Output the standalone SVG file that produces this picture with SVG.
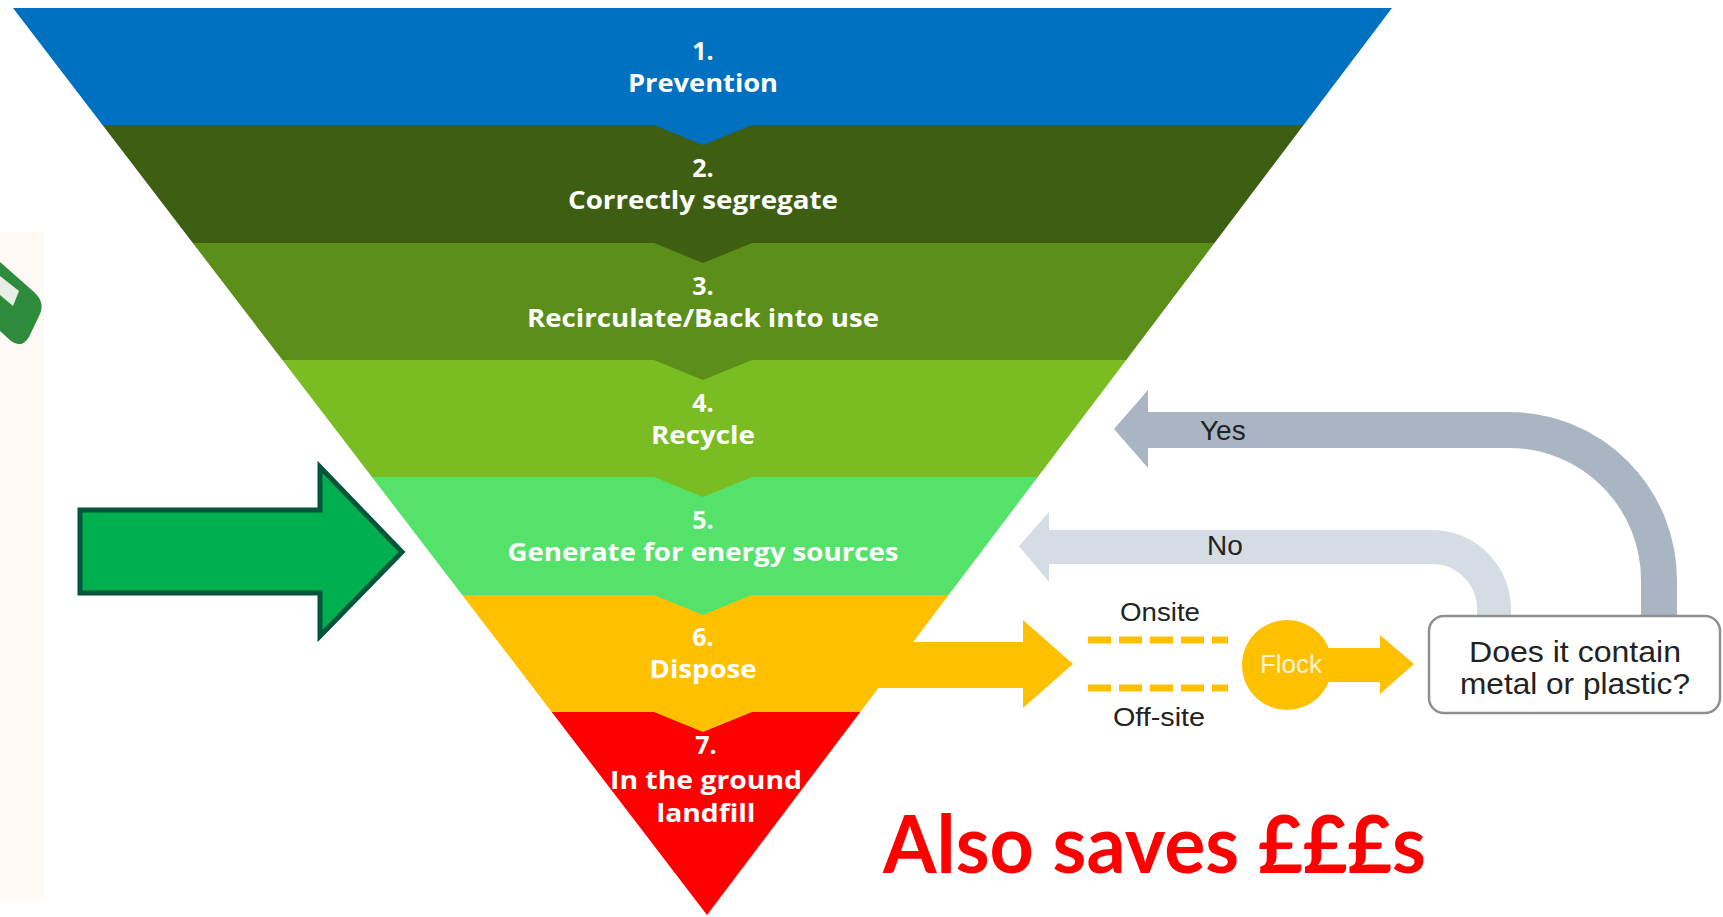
<svg xmlns="http://www.w3.org/2000/svg" width="1723" height="917" viewBox="0 0 1723 917">
<style>
.pt{font-family:"Open Sans","Noto Sans",sans-serif;font-weight:700;font-size:25px;fill:#FFFFFF;text-anchor:middle}
.lb{font-family:"Liberation Sans",Arial,sans-serif;fill:#222222}
</style>
<rect width="1723" height="917" fill="#FFFFFF"/>
<g id="left-panel">
<rect x="0" y="232" width="44" height="668" fill="#FFF9F5"/>
<path d="M0,262 L34,292 Q46,303 39,316 L29,337 Q22,349 11,341 L0,331 Z" fill="#2E8B3C"/>
<path d="M0,276 L19,291 L13,306 L0,295 Z" fill="#E6EEE6"/>
</g>
<g id="pyramid">
<g id="band7"><polygon points="551.7,712 860.3,712 707,915" fill="#FF0000"/></g>
<g id="band6"><polygon points="462.2,595 948.7,595 860.3,712 752,712 703,732 654,712 551.7,712" fill="#FFC000"/></g>
<g id="band5"><polygon points="371.9,477 1037.8,477 948.7,595 752,595 703,615 654,595 462.2,595" fill="#55E26B"/></g>
<g id="band4"><polygon points="282.4,360 1126.2,360 1037.8,477 752,477 703,497 654,477 371.9,477" fill="#79BD22"/></g>
<g id="band3"><polygon points="192.8,243 1214.5,243 1126.2,360 752,360 703,380 654,360 282.4,360" fill="#5C8E1A"/></g>
<g id="band2"><polygon points="102.5,125 1303.6,125 1214.5,243 752,243 703,263 654,243 192.8,243" fill="#3E5E12"/></g>
<g id="band1"><polygon points="13,8 1392,8 1303.6,125 752,125 703,145 654,125 102.5,125" fill="#0070C0"/></g>
</g>
<g id="labels-pyramid">
<text class="pt" x="703" y="60">1.</text>
<text class="pt" x="703" y="92" textLength="150" lengthAdjust="spacingAndGlyphs">Prevention</text>
<text class="pt" x="703" y="177">2.</text>
<text class="pt" x="703" y="209" textLength="270" lengthAdjust="spacingAndGlyphs">Correctly segregate</text>
<text class="pt" x="703" y="295">3.</text>
<text class="pt" x="703" y="327" textLength="352" lengthAdjust="spacingAndGlyphs">Recirculate/Back into use</text>
<text class="pt" x="703" y="412">4.</text>
<text class="pt" x="703" y="444" textLength="104" lengthAdjust="spacingAndGlyphs">Recycle</text>
<text class="pt" x="703" y="529">5.</text>
<text class="pt" x="703" y="561" textLength="391" lengthAdjust="spacingAndGlyphs">Generate for energy sources</text>
<text class="pt" x="703" y="646">6.</text>
<text class="pt" x="703" y="678" textLength="107" lengthAdjust="spacingAndGlyphs">Dispose</text>
<text class="pt" x="706" y="754">7.</text>
<text class="pt" x="706" y="789" textLength="192" lengthAdjust="spacingAndGlyphs">In the ground</text>
<text class="pt" x="706" y="822" textLength="99" lengthAdjust="spacingAndGlyphs">landfill</text>
</g>
<g id="green-arrow">
<polygon points="80,510 320,510 320,467 402,552 320,636 320,593 80,593" fill="#00B050" stroke="#00553A" stroke-width="5" stroke-linejoin="miter"/>
</g>
<g id="connectors">
<polygon id="dispose-arrow" points="860,642 1023,642 1023,620 1073,664 1023,708 1023,688 860,688" fill="#FFC000"/>
<line x1="1088" y1="640" x2="1228" y2="640" stroke="#FFC000" stroke-width="7" stroke-dasharray="23 8"/>
<line x1="1088" y1="688" x2="1228" y2="688" stroke="#FFC000" stroke-width="7" stroke-dasharray="23 8"/>
<g id="flock-arrow">
<rect x="1315" y="648" width="66" height="34" fill="#FFC000"/>
<polygon points="1380,635 1414,664 1380,694" fill="#FFC000"/>
</g>
<g id="yes-arrow">
<path d="M1146,430 H1509 A150,150 0 0 1 1659,580 V616" fill="none" stroke="#AAB5C4" stroke-width="36"/>
<polygon points="1114,429 1148,390 1148,468" fill="#AAB5C4"/>
</g>
<g id="no-arrow">
<path d="M1047,547 H1432 A62,62 0 0 1 1494,609 V616" fill="none" stroke="#D6DCE4" stroke-width="34"/>
<polygon points="1019,546 1049,512 1049,582" fill="#D6DCE4"/>
</g>
</g>
<g id="flock">
<circle cx="1287" cy="665" r="45" fill="#FFC000"/>
<text class="lb" x="1291" y="673" font-size="26" text-anchor="middle" style="fill:#FFF4D6">Flock</text>
</g>
<g id="decision-box">
<rect x="1429" y="616" width="291" height="97" rx="15" fill="#FFFFFF" stroke="#8F8F8F" stroke-width="2.5"/>
<text class="lb" x="1575" y="662" font-size="30" text-anchor="middle" textLength="212" lengthAdjust="spacingAndGlyphs">Does it contain</text>
<text class="lb" x="1575" y="694" font-size="30" text-anchor="middle" textLength="230" lengthAdjust="spacingAndGlyphs">metal or plastic?</text>
</g>
<g id="branch-labels">
<text class="lb" x="1200" y="440" font-size="28">Yes</text>
<text class="lb" x="1207" y="555" font-size="28">No</text>
<text class="lb" x="1120" y="621" font-size="26" textLength="80" lengthAdjust="spacingAndGlyphs">Onsite</text>
<text class="lb" x="1113" y="726" font-size="26" textLength="92" lengthAdjust="spacingAndGlyphs">Off-site</text>
</g>
<g id="savings">
<text x="883" y="873" font-family="Lato,'Open Sans',sans-serif" font-weight="700" font-size="80" fill="#FF0000" textLength="543" lengthAdjust="spacingAndGlyphs">Also saves £££s</text>
</g>
</svg>
